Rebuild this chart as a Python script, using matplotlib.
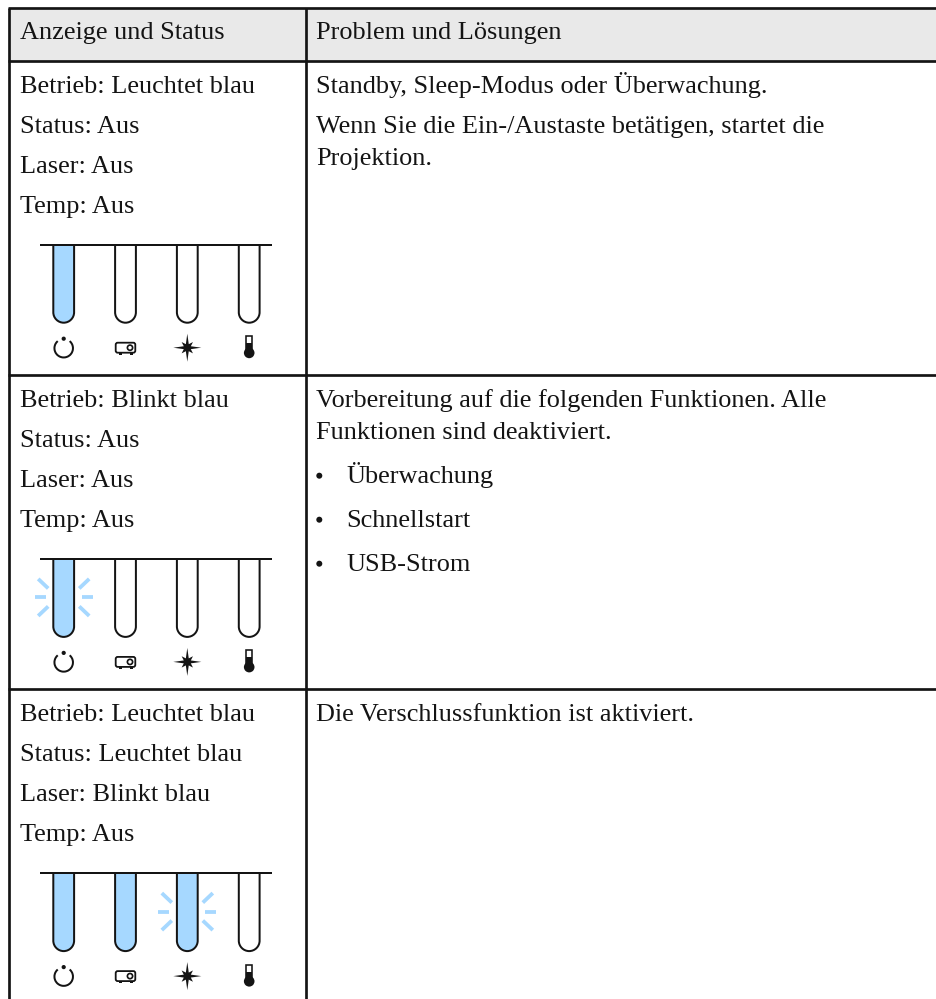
"""Status light table: Anzeige und Status / Problem und Loesungen."""
import numpy as np
import matplotlib
matplotlib.use("Agg")
import matplotlib.pyplot as plt
from matplotlib.patches import Arc, Circle, FancyBboxPatch, PathPatch, Polygon, Rectangle
from matplotlib.path import Path

# ---------------------------------------------------------------------------
# Table content
# ---------------------------------------------------------------------------
HEADERS = ["Anzeige und Status", "Problem und Lösungen"]

LEFT_TEXT = [
    ["Betrieb: Leuchtet blau", "Status: Aus", "Laser: Aus", "Temp: Aus"],
    ["Betrieb: Blinkt blau", "Status: Aus", "Laser: Aus", "Temp: Aus"],
    ["Betrieb: Leuchtet blau", "Status: Leuchtet blau", "Laser: Blinkt blau", "Temp: Aus"],
]

# one entry per line of the right column, "*" marks a bullet item
RIGHT_TEXT = [
    ["Standby, Sleep-Modus oder Überwachung.",
     "Wenn Sie die Ein-/Austaste betätigen, startet die", "Projektion."],
    ["Vorbereitung auf die folgenden Funktionen. Alle",
     "Funktionen sind deaktiviert.", "*Überwachung", "*Schnellstart", "*USB-Strom"],
    ["Die Verschlussfunktion ist aktiviert."],
]

# 0 = off, 1 = on, 2 = blinking, for Betrieb / Status / Laser / Temp
LED_STATES = [
    [1, 0, 0, 0],
    [2, 0, 0, 0],
    [1, 1, 2, 0],
]

# ---------------------------------------------------------------------------
# Layout (pixels, y downwards)
# ---------------------------------------------------------------------------
W, H = 937, 999
LEFT, MID = 9.5, 305.7
TOP, HEAD_BOTTOM = 7.5, 61
ROW_H = 314.2
LED_X = [63.7, 125.5, 187.3, 249.2]
RIGHT_OFFSETS = [[32, 72, 104], [32, 64, 108, 152, 196], [32]]
INK = "#141414"
BLUE = "#a6d8ff"
GREY = "#e9e9e9"
FONT = "Liberation Serif"
FS = 18.9


def px(w):
    return w * 0.72


def draw_tube(ax, x, y0, state):
    # rounded tube hanging from the bar
    r, h = 10.4, 78
    k = 0.55 * r
    verts = [(x - r, y0), (x - r, y0 + h - r),
             (x - r, y0 + h - r + k), (x - k, y0 + h), (x, y0 + h),
             (x + k, y0 + h), (x + r, y0 + h - r + k), (x + r, y0 + h - r),
             (x + r, y0)]
    codes = [Path.MOVETO, Path.LINETO] + [Path.CURVE4] * 6 + [Path.LINETO]
    ax.add_patch(PathPatch(Path(verts, codes), fc=BLUE if state else "white",
                           ec=INK, lw=px(2.0), zorder=3))
    if state == 2:
        yc = y0 + 38.5
        for sx in (-1, 1):
            ax.plot([x + sx * 18, x + sx * 29], [yc, yc], color=BLUE, lw=px(3.8),
                    solid_capstyle="butt", zorder=2)
            for sy in (-1, 1):
                ax.plot([x + sx * 15.5, x + sx * 25.5],
                        [yc + sy * 9, yc + sy * 18.5], color=BLUE, lw=px(3.8),
                        solid_capstyle="butt", zorder=2)


def draw_power(ax, x, y):
    ax.add_patch(Arc((x, y + 0.5), 18.5, 18.5, theta1=-50, theta2=230,
                     color=INK, lw=px(2.0), zorder=3))
    ax.add_patch(Circle((x, y - 9), 2.1, fc=INK, ec="none", zorder=3))


def draw_projector(ax, x, y):
    ax.add_patch(FancyBboxPatch((x - 9, y - 4.2), 18, 8.4,
                                boxstyle="round,pad=0.8,rounding_size=2",
                                fc="white", ec=INK, lw=px(1.8), zorder=3))
    ax.add_patch(Circle((x + 4.5, y), 2.6, fc="white", ec=INK, lw=px(1.7), zorder=4))
    for dx in (-6, 5):
        ax.add_patch(Rectangle((x + dx, y + 5.3), 2.8, 1.5, fc=INK, ec="none", zorder=3))


def draw_star(ax, x, y):
    pts = []
    for i in range(16):
        a = np.pi / 8 * i
        if i % 4 == 0:
            r = 14
        elif i % 2 == 0:
            r = 8
        else:
            r = 3.8
        pts.append((x + r * np.cos(a), y + r * np.sin(a)))
    ax.add_patch(Polygon(pts, closed=True, fc=INK, ec="none", zorder=3))


def draw_thermo(ax, x, y):
    ax.add_patch(Rectangle((x - 2.8, y - 11.5), 5.6, 16, fc="white", ec=INK,
                           lw=px(1.6), zorder=3))
    ax.add_patch(Rectangle((x - 2.8, y - 4.5), 5.6, 9, fc=INK, ec="none", zorder=3))
    ax.add_patch(Circle((x, y + 5.2), 5.3, fc=INK, ec="none", zorder=4))


def main():
    fig = plt.figure(figsize=(W / 100, H / 100), dpi=100)
    ax = fig.add_axes([0, 0, 1, 1])
    ax.set_xlim(0, W)
    ax.set_ylim(H, 0)
    ax.axis("off")

    # header band and table rules
    ax.add_patch(Rectangle((LEFT, TOP), W - LEFT, HEAD_BOTTOM - TOP, fc=GREY, ec="none", zorder=0))
    row_lines = [TOP, HEAD_BOTTOM, HEAD_BOTTOM + ROW_H, HEAD_BOTTOM + 2 * ROW_H]
    for y in row_lines:
        ax.plot([LEFT - 1.35, W], [y, y], color=INK, lw=px(2.7), solid_capstyle="butt", zorder=5)
    for x in (LEFT, MID):
        ax.plot([x, x], [TOP, H], color=INK, lw=px(2.7), solid_capstyle="butt", zorder=5)

    txt = dict(family=FONT, fontsize=FS, color=INK, va="baseline", ha="left")
    ax.text(20, 38.7, HEADERS[0], **txt)
    ax.text(316, 38.7, HEADERS[1], **txt)

    for i in range(3):
        top = HEAD_BOTTOM + i * ROW_H
        for j, line in enumerate(LEFT_TEXT[i]):
            ax.text(20, top + 32 + j * 40, line, **txt)
        for line, off in zip(RIGHT_TEXT[i], RIGHT_OFFSETS[i]):
            if line.startswith("*"):
                ax.add_patch(Circle((319.3, top + off - 7.5), 3, fc=INK, ec="none"))
                ax.text(346.5, top + off, line[1:], **txt)
            else:
                ax.text(316, top + off, line, **txt)

        # status lights
        bar_y = top + 183.7
        ax.plot([40, 272], [bar_y, bar_y], color=INK, lw=px(2.0), solid_capstyle="butt", zorder=4)
        for x, state in zip(LED_X, LED_STATES[i]):
            draw_tube(ax, x, bar_y, state)
        icon_y = bar_y + 103
        draw_power(ax, LED_X[0], icon_y)
        draw_projector(ax, LED_X[1], icon_y)
        draw_star(ax, LED_X[2], icon_y)
        draw_thermo(ax, LED_X[3], icon_y)

    fig.savefig("out.png", dpi=100)
    plt.close(fig)


if __name__ == "__main__":
    main()
